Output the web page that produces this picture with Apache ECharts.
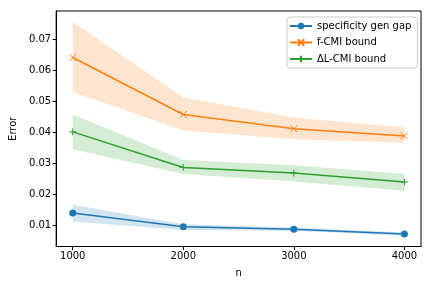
<!DOCTYPE html>
<html><head><meta charset="utf-8">
<script src="https://cdn.jsdelivr.net/npm/echarts@6/dist/echarts.min.js"></script>
<style>html,body{margin:0;padding:0;background:#fff}#c{width:432px;height:288px}</style>
</head><body><div id="c"></div>
<script>
const nValues = [1000, 2000, 3000, 4000];
const specGap = [0.0139, 0.00945, 0.0087, 0.0071];
const specLow = [0.0112, 0.0084, 0.0082, 0.0066];
const specHigh = [0.0166, 0.0103, 0.0092, 0.0076];
const fcmi = [0.0641, 0.0457, 0.0411, 0.0388];
const fcmiLow = [0.0530, 0.0405, 0.0377, 0.0366];
const fcmiHigh = [0.0756, 0.0512, 0.0447, 0.0416];
const dl = [0.0401, 0.0286, 0.0268, 0.0239];
const dlLow = [0.0345, 0.0265, 0.0241, 0.0211];
const dlHigh = [0.0457, 0.0310, 0.0293, 0.0265];
const yTicks = [0.01, 0.02, 0.03, 0.04, 0.05, 0.06, 0.07];
const xTicks = [1000, 2000, 3000, 4000];
const names = ['specificity gen gap', 'f-CMI bound', 'ΔL-CMI bound'];
const colors = ['#1f77b4', '#ff7f0e', '#2ca02c'];

const FONT = 'DejaVu Sans';
function band(low, high, color, key) {
  return {
    type: 'custom', name: key, silent: true, z: 1,
    data: [[nValues[0], low[0]]],
    renderItem: function (params, api) {
      const pts = [];
      for (let i = 0; i < nValues.length; i++) pts.push(api.coord([nValues[i], high[i]]));
      for (let i = nValues.length - 1; i >= 0; i--) pts.push(api.coord([nValues[i], low[i]]));
      return { type: 'polygon', shape: { points: pts }, style: { fill: color, opacity: 0.2 } };
    }
  };
}
const xPath = 'path://M0,0 L6,6 M6,0 L0,6';
const plusPath = 'path://M3,0 L3,6 M0,3 L6,3';
function main(name, vals, color, symbol, size, stroke) {
  const s = { type: 'line', name: name, data: nValues.map((x, i) => [x, vals[i]]),
    color: color, lineStyle: { color: color, width: 1.5 }, symbol: symbol, symbolSize: size, z: 5 };
  if (stroke) s.itemStyle = { color: 'rgba(0,0,0,0)', borderColor: color, borderWidth: 1 };
  else s.itemStyle = { color: color };
  return s;
}
const series = [
  band(specLow, specHigh, colors[0], 'b0'),
  band(fcmiLow, fcmiHigh, colors[1], 'b1'),
  band(dlLow, dlHigh, colors[2], 'b2'),
  main(names[0], specGap, colors[0], 'circle', 7, false),
  main(names[1], fcmi, colors[1], xPath, 7, true),
  main(names[2], dl, colors[2], plusPath, 7, true)
];
const chart = echarts.init(document.getElementById('c'), null, { renderer: 'canvas' });
chart.setOption({
  animation: false,
  backgroundColor: '#fff',
  textStyle: { fontFamily: FONT },
  grid: { left: 54.5, right: 11, top: 11, bottom: 41.5, show: true, borderColor: '#000', borderWidth: 1 },
  xAxis: { type: 'value', min: 850, max: 4150, name: 'n', nameLocation: 'middle', nameGap: 22,
    nameTextStyle: { fontFamily: FONT, fontSize: 10, color: '#000' },
    splitLine: { show: false },
    axisLine: { show: true, lineStyle: { color: '#000', width: 1 } },
    axisTick: { show: true, length: 3.5, lineStyle: { color: '#000' }, customValues: xTicks },
    axisLabel: { fontFamily: FONT, fontSize: 10, color: '#000', margin: 5, customValues: xTicks,
      formatter: v => String(Math.round(v)) } },
  yAxis: { type: 'value', min: 0.0031, max: 0.0791, name: 'Error', nameLocation: 'middle', nameGap: 35,
    nameTextStyle: { fontFamily: FONT, fontSize: 10, color: '#000' },
    splitLine: { show: false },
    axisLine: { show: true, lineStyle: { color: '#000', width: 1 } },
    axisTick: { show: true, length: 3.5, lineStyle: { color: '#000' }, customValues: yTicks },
    axisLabel: { fontFamily: FONT, fontSize: 10, color: '#000', margin: 5, customValues: yTicks,
      formatter: v => v.toFixed(2) } },
  legend: { data: names, orient: 'vertical', left: 287, top: 17, width: 130,
    itemWidth: 22, itemHeight: 8, itemGap: 6.5, padding: [4, 6, 4, 2],
    backgroundColor: 'rgba(255,255,255,0.8)', borderColor: '#cccccc', borderWidth: 1, borderRadius: 3,
    textStyle: { fontFamily: FONT, fontSize: 10, color: '#000', padding: [0, 0, 0, 0] } },
  series: series
});
</script></body></html>
